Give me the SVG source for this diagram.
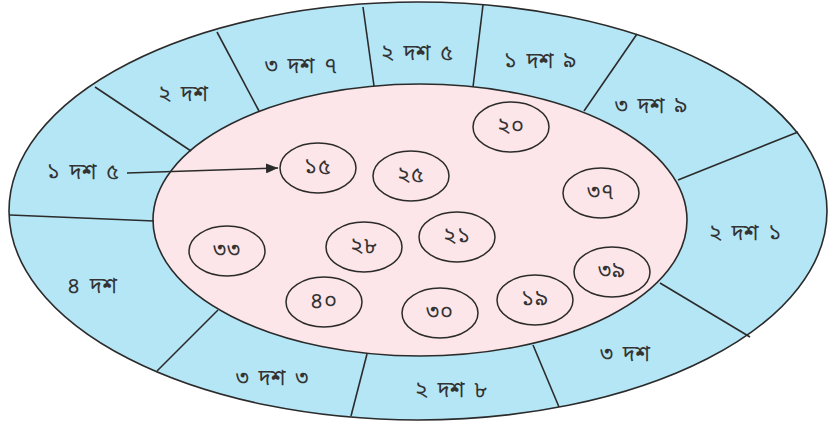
<svg xmlns="http://www.w3.org/2000/svg" width="829" height="424" viewBox="0 0 829 424">
<style>
.ring{fill:#b5e6f6;stroke:#2b2b2b;stroke-width:1.6}
.core{fill:#fde6e9;stroke:#2b2b2b;stroke-width:1.6}
.div{stroke:#2b2b2b;stroke-width:1.6;fill:none}
.node ellipse{fill:none;stroke:#2b2b2b;stroke-width:1.5}
text{font-family:"Noto Sans Bengali","Noto Sans","DejaVu Sans",sans-serif;font-size:22px;fill:#333;text-anchor:middle;dominant-baseline:central;word-spacing:4px}
.node text{font-size:22px;letter-spacing:1px}
</style>
<defs>
<marker id="arr" markerWidth="12" markerHeight="10" refX="12" refY="5" orient="auto" markerUnits="userSpaceOnUse">
<path d="M0,0 L12,5 L0,10 Z" fill="#2b2b2b"/>
</marker>
</defs>
<g id="outer"><ellipse class="ring" cx="418" cy="211" rx="409" ry="209"/></g>
<g id="inner"><ellipse class="core" cx="420" cy="220" rx="267" ry="136"/></g>
<g id="dividers">
<line class="div" x1="10" y1="215" x2="154" y2="221"/>
<line class="div" x1="95" y1="87" x2="191" y2="151"/>
<line class="div" x1="217" y1="32" x2="259" y2="111"/>
<line class="div" x1="363" y1="7" x2="374" y2="86"/>
<line class="div" x1="483" y1="5" x2="473" y2="87"/>
<line class="div" x1="637" y1="34" x2="584" y2="111"/>
<line class="div" x1="798" y1="132" x2="678" y2="180"/>
<line class="div" x1="660" y1="283" x2="750" y2="337"/>
<line class="div" x1="533" y1="345" x2="559" y2="407"/>
<line class="div" x1="367" y1="354" x2="351" y2="416"/>
<line class="div" x1="218" y1="310" x2="157" y2="371"/>
</g>
<g id="segment-labels">
<text x="83" y="173">১ দশ ৫</text>
<text x="183" y="95">২ দশ</text>
<text x="301" y="67">৩ দশ ৭</text>
<text x="417" y="54">২ দশ ৫</text>
<text x="540" y="62">১ দশ ৯</text>
<text x="651" y="107">৩ দশ ৯</text>
<text x="745" y="234">২ দশ ১</text>
<text x="625" y="355">৩ দশ</text>
<text x="451" y="391">২ দশ ৮</text>
<text x="272" y="379">৩ দশ ৩</text>
<text x="92" y="287">৪ দশ</text>
</g>
<g id="connectors">
<line class="div" x1="127" y1="173" x2="278" y2="168" marker-end="url(#arr)"/>
</g>
<g id="n15" class="node"><ellipse cx="318" cy="168" rx="38" ry="25"/><text x="318" y="168">১৫</text></g>
<g id="n25" class="node"><ellipse cx="411" cy="176" rx="38" ry="25"/><text x="411" y="176">২৫</text></g>
<g id="n20" class="node"><ellipse cx="511" cy="127" rx="38" ry="25"/><text x="511" y="127">২০</text></g>
<g id="n37" class="node"><ellipse cx="601" cy="193" rx="38" ry="25"/><text x="601" y="193">৩৭</text></g>
<g id="n33" class="node"><ellipse cx="227" cy="251" rx="38" ry="25"/><text x="227" y="251">৩৩</text></g>
<g id="n28" class="node"><ellipse cx="364" cy="247" rx="38" ry="25"/><text x="364" y="247">২৮</text></g>
<g id="n21" class="node"><ellipse cx="457" cy="237" rx="38" ry="25"/><text x="457" y="237">২১</text></g>
<g id="n40" class="node"><ellipse cx="324" cy="302" rx="38" ry="25"/><text x="324" y="302">৪০</text></g>
<g id="n30" class="node"><ellipse cx="440" cy="313" rx="38" ry="25"/><text x="440" y="313">৩০</text></g>
<g id="n19" class="node"><ellipse cx="535" cy="300" rx="38" ry="25"/><text x="535" y="300">১৯</text></g>
<g id="n39" class="node"><ellipse cx="612" cy="272" rx="38" ry="25"/><text x="612" y="272">৩৯</text></g>
</svg>
